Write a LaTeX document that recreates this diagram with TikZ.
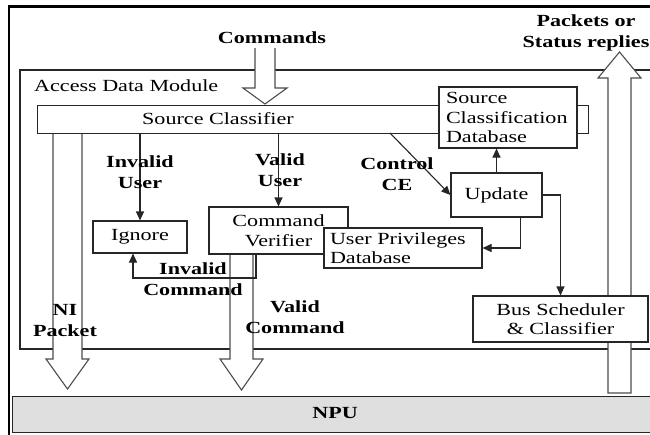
\documentclass[tikz,border=0pt]{standalone}
\usepackage{fontspec}
\setmainfont{Liberation Serif}[FakeStretch=1.3]
\usetikzlibrary{arrows.meta,calc}

\tikzset{
  boxline/.style={draw=black!85, line width=1.1pt},
  box/.style={boxline, fill=white, inner sep=0pt, align=center,
              font=\fontsize{17pt}{19.5pt}\selectfont},
  lbl/.style={inner sep=0pt, align=center,
              font=\fontsize{17pt}{21pt}\selectfont\bfseries},
  plain/.style={inner sep=0pt, font=\fontsize{17pt}{19.5pt}\selectfont},
  conn/.style={draw=black!85, line width=1.1pt,
               -{Triangle[length=9pt,width=8pt]}},
  hollow/.style={draw=black!70, line width=1.1pt, fill=white, line join=miter},
}

% hollow block arrow pointing down: shaft x1..x2 from ys to yb, head hx1..hx2, tip yt
\newcommand{\downblock}[7]{%
  \filldraw[hollow] (#1,#3) -- (#1,#4) -- (#5,#4) -- ({(#5+#6)/2},#7)
    -- (#6,#4) -- (#2,#4) -- (#2,#3);}

\begin{document}
\begin{tikzpicture}[x=1pt,y=-1pt]
\useasboundingbox (0,0) rectangle (650,434);
\fill[white] (0,0) rectangle (650,434);

% outer frame (only left and top edges inside the page)
\draw[line width=2.6pt] (9,460) -- (9,6.5) -- (680,6.5);

% access data module
\draw[boxline] (20,70) rectangle (680,349);
\node[plain, anchor=west] (adm) at (34,86) {Access Data Module};

% NPU bar
\node[boxline, fill=gray!25, minimum width=660pt, minimum height=36pt,
      anchor=north west, inner sep=0pt] (npu) at (12,396) {};
\node[lbl] (npulbl) at (335,413) {NPU};

% hollow arrows
\downblock{255}{275}{48}{88}{243}{287}{104}
\downblock{53}{82}{133}{359}{46}{89}{389}
\downblock{230}{253}{254}{359}{220}{263}{390}
\filldraw[hollow] (608,393) -- (608,78) -- (598,78) -- (619.5,52) -- (641,78)
  -- (631,78) -- (631,393) -- cycle;

% source classifier bar
\node[boxline, fill=white, minimum width=551pt, minimum height=28pt,
      inner sep=0pt, anchor=north west] (sc) at (37,105) {};
\node[plain] (sclbl) at (218,119) {Source Classifier};

% boxes
\node[box, minimum width=138pt, minimum height=61pt, text width=124pt,
      inner xsep=7pt, align=left] (scdb) at (508,117.5)
      {Source\\Classification\\Database};
\node[box, minimum width=94pt, minimum height=32pt] (ign) at (140,237) {Ignore};
\node[box, minimum width=139pt, minimum height=47pt] (cv) at (278.5,230.5)
      {Command\\Verifier};
\node[box, minimum width=158pt, minimum height=40pt, text width=146pt,
      inner xsep=6pt, align=left] (upd) at (403,248) {User Privileges\\Database};
\node[box, minimum width=91pt, minimum height=44pt] (update) at (496.5,195) {Update};
\node[box, minimum width=175pt, minimum height=46pt] (bus) at (560.5,319)
      {Bus Scheduler\\\& Classifier};

% connectors
\coordinate (ctl) at (390,133);
\coordinate (icA) at (256,278);
\coordinate (icB) at (133,278);
\draw[conn] (ign.north |- sc.south) -- (ign.north);
\draw[conn] (cv.north |- sc.south) -- (cv.north);
\draw[conn] (ctl) -- (update.west);
\draw[conn] (update.north) -- (update.north |- scdb.south);
\draw[conn] ($(update.south east)+(-22,0)$) |- (upd.east);
\draw[conn] (update.east) -| (bus.north);
\draw[conn] (cv.south -| icA) -- (icA) -- (icB) -- (icB |- ign.south);

% labels
\node[lbl] (lcmd) at (272,38) {Commands};
\node[lbl] (lpk) at (586,33) {Packets or\\Status replies};
\node[lbl] (liu) at (140,172.5) {Invalid\\User};
\node[lbl] (lvu) at (280,170) {Valid\\User};
\node[lbl] (lce) at (397,174.5) {Control\\CE};
\node[lbl] (lic) at (193,279) {Invalid\\Command};
\node[lbl] (lni) at (65,320.5) {NI\\Packet};
\node[lbl] (lvc) at (295,317) {Valid\\Command};
\end{tikzpicture}
\end{document}
